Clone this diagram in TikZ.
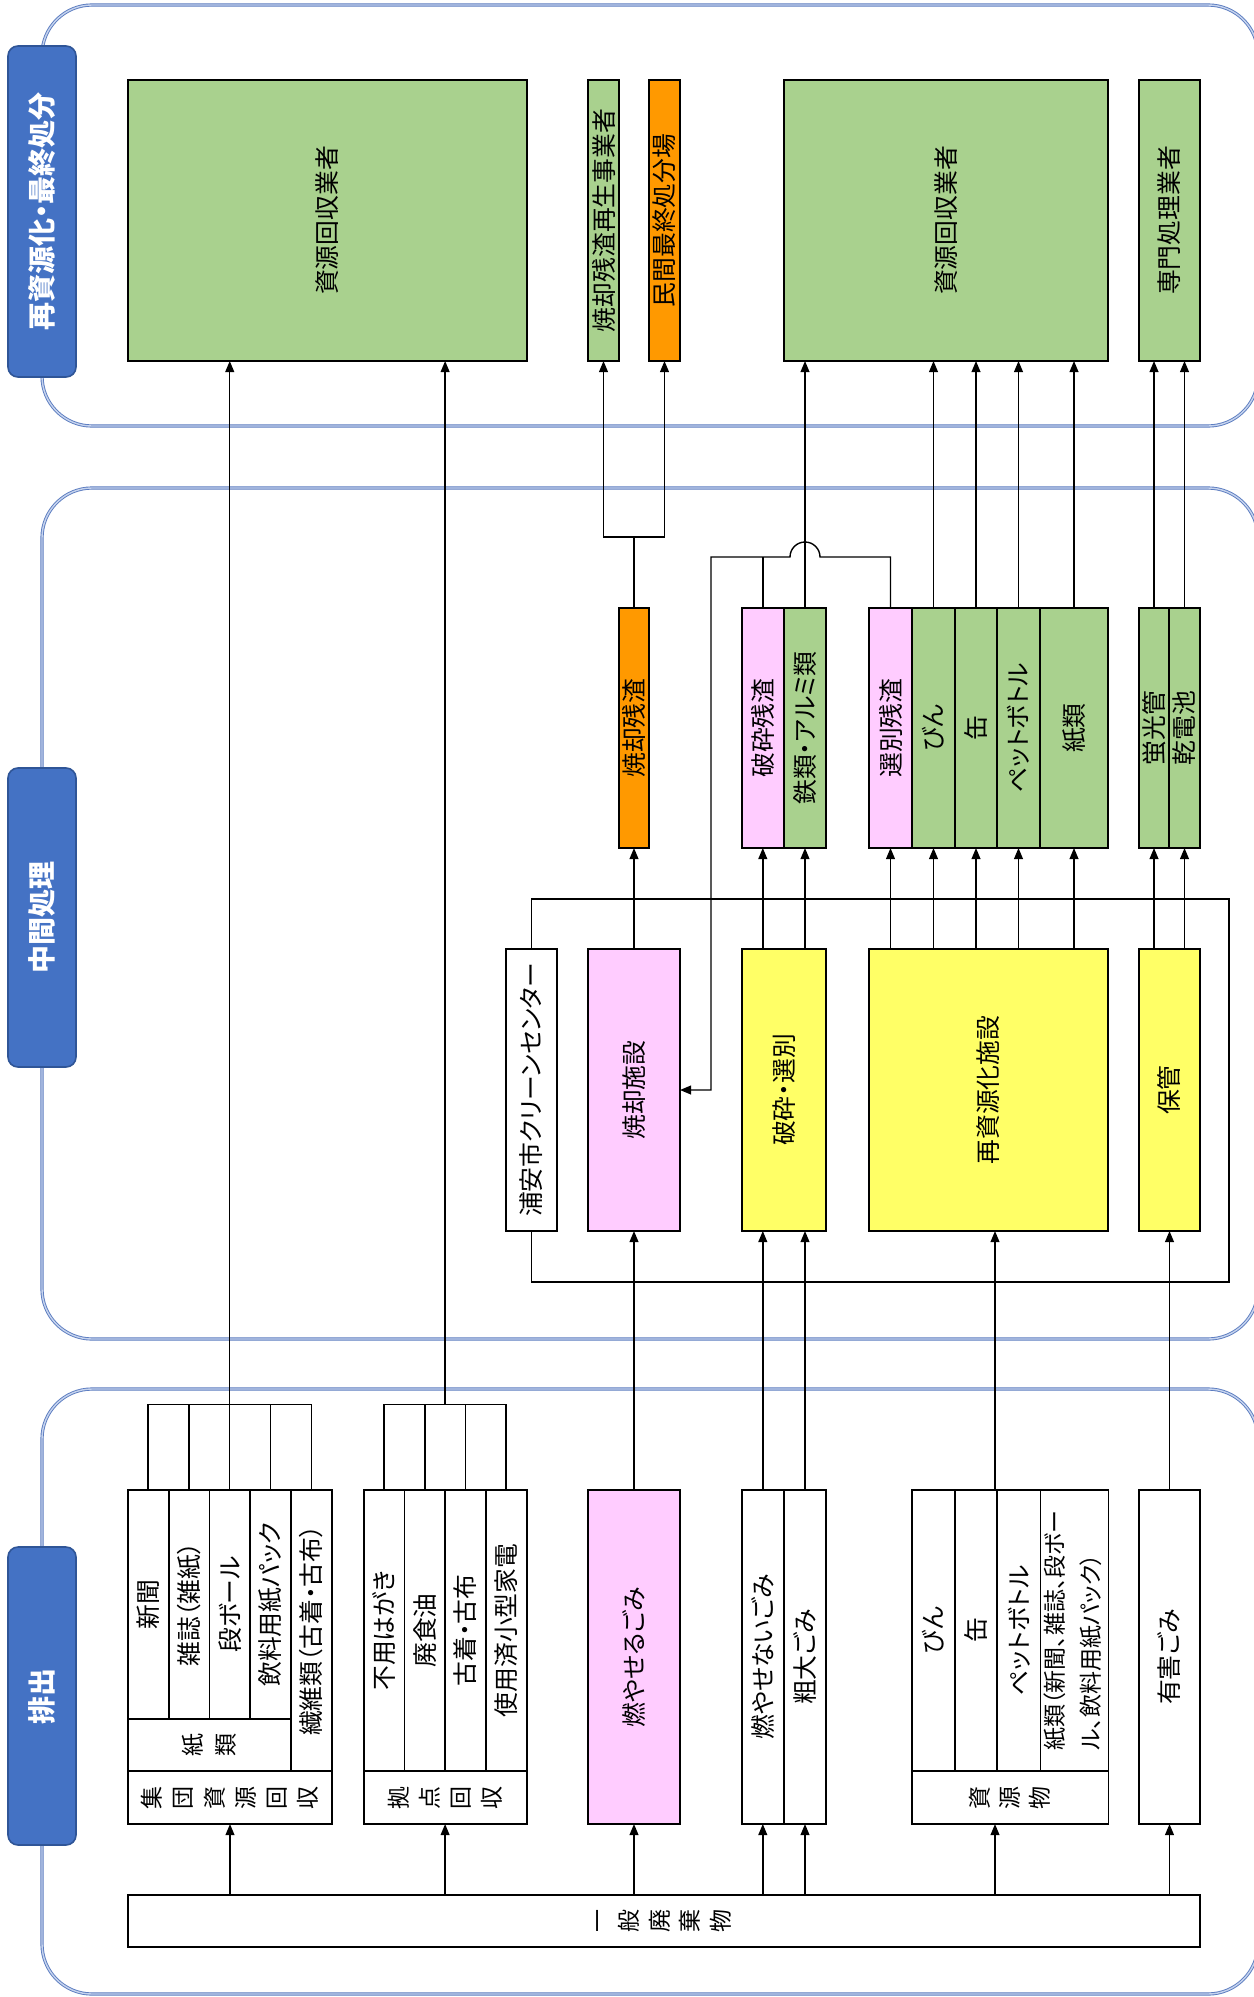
\documentclass[tikz,border=0pt]{standalone}
\usepackage{fontspec}
\setmainfont{Noto Sans CJK JP}[RawFeature=+palt]
\usetikzlibrary{arrows.meta,calc}
\definecolor{cgreen}{HTML}{A9D18E}
\definecolor{corange}{HTML}{FF9900}
\definecolor{cpink}{HTML}{FFCCFF}
\definecolor{cyellow}{HTML}{FFFF66}
\definecolor{tabblue}{HTML}{4472C4}
\definecolor{tabedge}{HTML}{2F5597}
\definecolor{panelline}{HTML}{5B7CC0}
\definecolor{panelmid}{HTML}{C5D3EE}
\newcommand\fs{\fontsize{12.4}{14}\selectfont}
\newcommand\rt[1]{\rotatebox{90}{#1}}
\newcommand\stk[2]{\rotatebox{90}{\parbox{1.3em}{\centering\fontsize{11.5}{#1}\selectfont #2\par}}}
\newcommand\bx[7]{%
  \pgfmathsetlengthmacro\bxw{(#4-#2)*0.5pt}%
  \pgfmathsetlengthmacro\bxh{(#5-#3)*0.5pt}%
  \node[box,#6,minimum width=\bxw,minimum height=\bxh] (#1) at ({(#2+#4)/2},{(#3+#5)/2}) {#7};}
\begin{document}
\begin{tikzpicture}[x=0.5pt,y=-0.5pt,
  box/.style={draw=black,line width=0.9pt,inner sep=0pt,outer sep=0pt,font=\fs},
  tab/.style={draw=tabedge,fill=tabblue,line width=0.8pt,rounded corners=5pt,text=white,font=\fontsize{14}{16}\selectfont\bfseries},
  panel/.style={draw=panelline,line width=0.45pt,double=panelmid,double distance=0.7pt,rounded corners=25pt},
  con/.style={line width=0.7pt},
  arr/.style={con,-{Triangle[length=5.5pt,width=4.4pt]}},
  brk/.style={line width=0.9pt}]
\useasboundingbox (0,0) rectangle (1253,1997);
\fill[white] (0,0) rectangle (1253,1997);

% panels
\draw[panel] (42,5) rectangle (1258,426);
\draw[panel] (42,488) rectangle (1258,1339);
\draw[panel] (42,1389) rectangle (1258,1994);

% tabs
\bx{tA}{8}{46}{76}{377}{tab}{\rt{再資源化・最終処分}}
\bx{tB}{8}{768}{76}{1067}{tab}{\rt{中間処理}}
\bx{tC}{8}{1547}{76}{1845}{tab}{\rt{排出}}

% top row
\bx{r1}{128}{80}{527}{361}{fill=cgreen}{\rt{資源回収業者}}
\bx{r2}{588}{80}{619}{361}{fill=cgreen}{\rt{焼却残渣再生事業者}}
\bx{r3}{649}{80}{680}{361}{fill=corange}{\rt{民間最終処分場}}
\bx{r4}{784}{80}{1108}{361}{fill=cgreen}{\rt{資源回収業者}}
\bx{r5}{1139}{80}{1200}{361}{fill=cgreen}{\rt{専門処理業者}}

% middle row
\bx{m1}{619}{608}{649}{848}{fill=corange}{\rt{焼却残渣}}
\bx{m2}{741.6}{608}{784}{848}{fill=cpink}{\rt{破砕残渣}}
\bx{m3}{784}{608}{826}{848}{fill=cgreen}{\rt{鉄類・アルミ類}}
\bx{m4}{869}{608}{912}{848}{fill=cpink}{\rt{選別残渣}}
\bx{m5}{912}{608}{955}{848}{fill=cgreen}{\rt{びん}}
\bx{m6}{955}{608}{997}{848}{fill=cgreen}{\rt{缶}}
\bx{m7}{997}{608}{1040}{848}{fill=cgreen}{\rt{ペットボトル}}
\bx{m8}{1040}{608}{1108}{848}{fill=cgreen}{\rt{紙類}}
\bx{m9}{1139}{608}{1169}{848}{fill=cgreen}{\rt{蛍光管}}
\bx{m10}{1169}{608}{1200}{848}{fill=cgreen}{\rt{乾電池}}

% facilities
\coordinate (encTL) at (0,899);
\coordinate (encTR) at (1229,899);
\coordinate (encBR) at (1229,1282);
\coordinate (encB) at (0,1282);
\bx{f0}{506}{949}{557}{1231}{fill=white}{\rt{浦安市クリーンセンター}}
\draw[brk] (f0.north) -- (f0.north |- encTL) -- (encTR) -- (encBR) -- (f0.south |- encB) -- (f0.south);
\bx{f1}{588}{949}{680}{1231}{fill=cpink}{\rt{焼却施設}}
\bx{f2}{741.6}{949}{826}{1231}{fill=cyellow}{\rt{破砕・選別}}
\bx{f3}{869}{949}{1108}{1231}{fill=cyellow}{\rt{再資源化施設}}
\bx{f4}{1139}{949}{1200}{1231}{fill=cyellow}{\rt{保管}}

% bottom row
\bx{g1a}{128}{1490}{168.6}{1719}{fill=white}{\rt{新聞}}
\bx{g1b}{168.6}{1490}{209.4}{1719}{fill=white}{\rt{雑誌（雑紙）}}
\bx{g1c}{209.4}{1490}{250.1}{1719}{fill=white}{\rt{段ボール}}
\bx{g1d}{250.1}{1490}{291}{1719}{fill=white}{\rt{飲料用紙パック}}
\bx{g1e}{291}{1490}{332}{1771}{fill=white}{\rt{繊維類（古着・古布）}}
\bx{g1k}{128}{1719}{291}{1771}{fill=white}{\stk{16.5pt}{紙\\類}}
\bx{g1s}{128}{1771}{332}{1824}{fill=white}{\stk{15.6pt}{集\\団\\資\\源\\回\\収}}

\bx{g2a}{363.6}{1490}{404.4}{1771}{fill=white}{\rt{不用はがき}}
\bx{g2b}{404.4}{1490}{445.1}{1771}{fill=white}{\rt{廃食油}}
\bx{g2c}{445.1}{1490}{485.9}{1771}{fill=white}{\rt{古着・古布}}
\bx{g2d}{485.9}{1490}{526.6}{1771}{fill=white}{\rt{使用済小型家電}}
\bx{g2s}{363.6}{1771}{526.6}{1824}{fill=white}{\stk{15.5pt}{拠\\点\\回\\収}}

\bx{g3}{588}{1490}{680}{1824}{fill=cpink}{\rt{燃やせるごみ}}
\bx{g4a}{741.6}{1490}{784}{1824}{fill=white}{\rt{燃やせないごみ}}
\bx{g4b}{784}{1490}{826}{1824}{fill=white}{\rt{粗大ごみ}}

\bx{g5a}{911.8}{1490}{954.9}{1771}{fill=white}{\rt{びん}}
\bx{g5b}{954.9}{1490}{997.3}{1771}{fill=white}{\rt{缶}}
\bx{g5c}{997.3}{1490}{1040.4}{1771}{fill=white}{\rt{ペットボトル}}
\bx{g5d}{1040.4}{1490}{1108.4}{1771}{fill=white}{\makebox[0pt]{\rt{\fontsize{11.5}{18}\selectfont\begin{tabular}{@{}l@{}}紙類（新聞、雑誌、段ボー\\ル、飲料用紙パック）\end{tabular}}}}
\bx{g5s}{911.8}{1771}{1108.4}{1824}{fill=white}{\stk{15pt}{資\\源\\物}}

\bx{g6}{1139}{1490}{1200}{1824}{fill=white}{\rt{有害ごみ}}
\bx{ip}{128}{1895}{1200}{1947}{fill=white}{\stk{15.3pt}{一\\般\\廃\\棄\\物}}

% helper coordinates
\coordinate (barY) at (0,1404.5);
\coordinate (splitY) at (0,537);
\coordinate (hopY) at (0,557);
\coordinate (retX) at (711,0);
\coordinate (x5) at (995,0);

% from 一般廃棄物
\draw[arr] (g1s.south |- ip.north) -- (g1s.south);
\draw[arr] (g2s.south |- ip.north) -- (g2s.south);
\draw[arr] (g3.south |- ip.north) -- (g3.south);
\draw[arr] (g4a.south |- ip.north) -- (g4a.south);
\draw[arr] (g4b.south |- ip.north) -- (g4b.south);
\draw[arr] (x5 |- ip.north) -- (x5 |- g5s.south);
\draw[arr] (g6.south |- ip.north) -- (g6.south);

% brackets of collection groups
\draw[brk] (g1a.north) -- (g1a.north |- barY) -- (g1e.north |- barY) -- (g1e.north);
\draw[brk] (g1b.north) -- (g1b.north |- barY);
\draw[brk] (g1d.north) -- (g1d.north |- barY);
\draw[brk] (g2a.north) -- (g2a.north |- barY) -- (g2d.north |- barY) -- (g2d.north);
\draw[brk] (g2b.north) -- (g2b.north |- barY);
\draw[brk] (g2c.north) -- (g2c.north |- barY);
\coordinate (g2mid) at ($(g2a.north)!0.5!(g2d.north)$);
\draw[arr] (g1c.north) -- (g1c.north |- r1.south);
\draw[arr] (g2mid |- barY) -- (g2mid |- r1.south);

% bottom row to facilities
\draw[arr] (g3.north) -- (g3.north |- f1.south);
\draw[arr] (g4a.north) -- (g4a.north |- f2.south);
\draw[arr] (g4b.north) -- (g4b.north |- f2.south);
\draw[arr] (x5 |- g5b.north) -- (x5 |- f3.south);
\draw[arr] (g6.north) -- (g6.north |- f4.south);

% facilities to middle row
\draw[arr] (m1.south |- f1.north) -- (m1.south);
\draw[arr] (m2.south |- f2.north) -- (m2.south);
\draw[arr] (m3.south |- f2.north) -- (m3.south);
\foreach \m in {m4,m5,m6,m7,m8} \draw[arr] (\m.south |- f3.north) -- (\m.south);
\draw[arr] (m9.south |- f4.north) -- (m9.south);
\draw[arr] (m10.south |- f4.north) -- (m10.south);

% middle row to top row
\draw[arr] (m3.north) -- (m3.north |- r4.south);
\foreach \m in {m5,m6,m7,m8} \draw[arr] (\m.north) -- (\m.north |- r4.south);
\draw[arr] (m9.north) -- (m9.north |- r5.south);
\draw[arr] (m10.north) -- (m10.north |- r5.south);

% incineration residue split
\draw[con] (m1.north) -- (m1.north |- splitY);
\draw[arr] (m1.north |- splitY) -- (r2.south |- splitY) -- (r2.south);
\draw[arr] (m1.north |- splitY) -- (r3.south |- splitY) -- (r3.south);

% residues back to incinerator (with line hop)
\coordinate (hopR) at ($(m3.north |- hopY)+(15,0)$);
\draw[con] (m2.north) -- (m2.north |- hopY);
\draw[arr] (m4.north) -- (m4.north |- hopY) -- (hopR) arc[start angle=0,end angle=180,radius=7.5pt] -- (retX |- hopY) -- (retX |- f1.east) -- (f1.east);
\end{tikzpicture}
\end{document}
